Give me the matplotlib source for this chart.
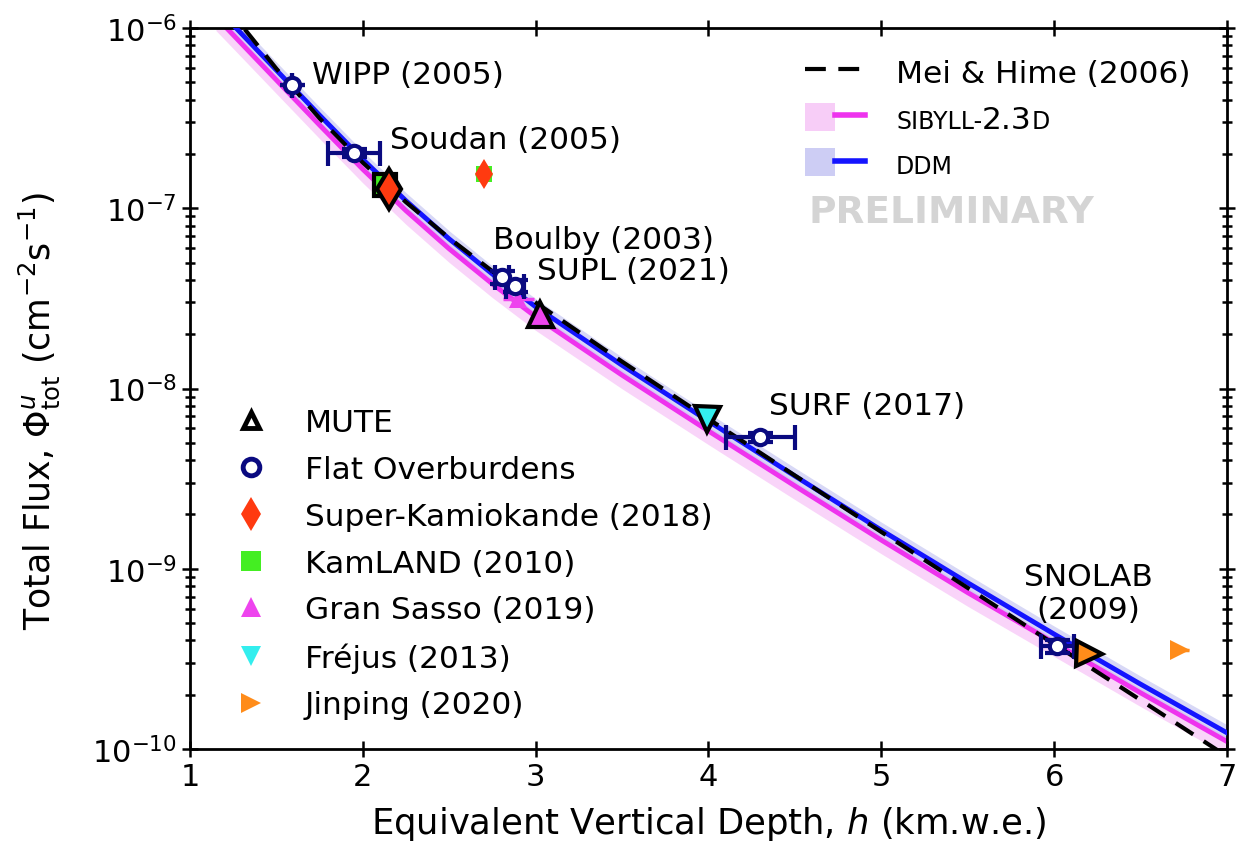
import numpy as np
import matplotlib.pyplot as plt
from matplotlib.lines import Line2D
from matplotlib.patches import Patch
from matplotlib.legend_handler import HandlerTuple
from matplotlib.transforms import IdentityTransform

# model curves (depth in km.w.e., flux in cm^-2 s^-1)
depth = [1.15, 1.25, 1.5, 1.75, 2.0, 2.25, 2.5, 2.75, 3.0, 3.5, 4.0, 4.5, 5.0, 5.5, 6.0, 6.5, 7.0]
ddm = [1.306e-6, 1.038e-6, 5.83e-7, 3.28e-7, 1.866e-7, 1.099e-7, 6.75e-8, 4.31e-8, 2.84e-8,
       1.346e-8, 6.59e-9, 3.27e-9, 1.637e-9, 8.36e-10, 4.34e-10, 2.29e-10, 1.23e-10]
ddm_hi = [1.448e-6, 1.151e-6, 6.47e-7, 3.64e-7, 2.07e-7, 1.219e-7, 7.49e-8, 4.78e-8, 3.15e-8,
          1.493e-8, 7.31e-9, 3.63e-9, 1.815e-9, 9.27e-10, 4.81e-10, 2.54e-10, 1.364e-10]
ddm_lo = [1.178e-6, 9.36e-7, 5.26e-7, 2.96e-7, 1.683e-7, 9.91e-8, 6.09e-8, 3.89e-8, 2.56e-8,
          1.214e-8, 5.94e-9, 2.95e-9, 1.477e-9, 7.54e-10, 3.91e-10, 2.07e-10, 1.109e-10]
sib = [1.151e-6, 9.15e-7, 5.14e-7, 2.89e-7, 1.644e-7, 9.68e-8, 5.95e-8, 3.80e-8, 2.50e-8,
       1.186e-8, 5.81e-9, 2.88e-9, 1.442e-9, 7.37e-10, 3.88e-10, 2.05e-10, 1.10e-10]
sib_hi = [1.22e-6, 9.7e-7, 5.45e-7, 3.06e-7, 1.743e-7, 1.026e-7, 6.31e-8, 4.03e-8, 2.65e-8,
          1.257e-8, 6.16e-9, 3.05e-9, 1.529e-9, 7.81e-10, 4.11e-10, 2.17e-10, 1.166e-10]
sib_lo = [9.67e-7, 7.69e-7, 4.32e-7, 2.43e-7, 1.381e-7, 8.13e-8, 5.0e-8, 3.19e-8, 2.10e-8,
          9.96e-9, 4.88e-9, 2.42e-9, 1.211e-9, 6.19e-10, 3.26e-10, 1.72e-10, 9.24e-11]

depth_mh = [1.2, 1.3, 1.5, 1.75, 2.0, 2.25, 2.5, 2.75, 3.0, 3.5, 4.0, 4.5, 5.0, 5.5, 6.0, 6.5, 7.0]
meihime = [1.38e-6, 1.03e-6, 5.94e-7, 3.15e-7, 1.79e-7, 1.08e-7, 6.82e-8, 4.47e-8, 3.0e-8,
           1.41e-8, 6.78e-9, 3.29e-9, 1.60e-9, 7.83e-10, 3.82e-10, 1.87e-10, 9.1e-11]

# flat overburden labs
flat_names = ["WIPP (2005)", "Soudan (2005)", "Boulby (2003)", "SUPL (2021)", "SURF (2017)", "SNOLAB\n(2009)"]
flat_h = [1.589, 1.95, 2.804, 2.881, 4.30, 6.017]
flat_phi = [4.83e-7, 2.02e-7, 4.14e-8, 3.71e-8, 5.36e-9, 3.72e-10]
flat_herr = [0.0, 0.15, 0.04, 0.05, 0.20, 0.095]
flat_phierr = [0.0, 0.1e-7, 0.35e-8, 0.3e-8, 0.3e-9, 0.3e-10]

# experiments (measured) and MUTE predictions
labs = ["Super-Kamiokande (2018)", "KamLAND (2010)", "Gran Sasso (2019)", "Fréjus (2013)", "Jinping (2020)"]
lab_colors = ["#ff3a10", "#44ee22", "#ee44ee", "#33eeee", "#ff8c1a"]
lab_markers = ["d", "s", "^", "v", ">"]
exp_h = [2.70, 2.70, 2.90, 3.99, 6.73]
exp_phi = [1.54e-7, 1.54e-7, 3.15e-8, 6.8e-9, 3.55e-10]
exp_herr = [0.0, 0.05, 0.09, 0.0, 0.05]
exp_phierr = [0.0, 0.14e-7, 0.2e-8, 0.0, 0.0]
mute_h = [2.153, 2.128, 3.025, 3.99, 6.20]
mute_phi = [1.28e-7, 1.35e-7, 2.59e-8, 6.8e-9, 3.35e-10]

fig = plt.figure(figsize=(12.42, 8.45), dpi=100)
ax = fig.add_axes([0.1530, 0.1124, 0.8349, 0.8533])

ax.fill_between(depth, sib_lo, sib_hi, color="#f5b8f5", alpha=0.6, lw=0, zorder=1)
ax.fill_between(depth, ddm_lo, ddm_hi, color="#b8b8f0", alpha=0.55, lw=0, zorder=1)
ax.plot(depth, sib, color="#ee33ee", lw=3.5, zorder=2)
ax.plot(depth, ddm, color="#1414ff", lw=3.5, zorder=3)
ax.plot(depth_mh, meihime, color="black", lw=3, ls=(0, (5, 3)), zorder=4)

# measured points
for i in range(len(labs)):
    ms = {"d": 15, "s": 12, "^": 13, "v": 13, ">": 15}[lab_markers[i]]
    ax.errorbar(exp_h[i], exp_phi[i], xerr=exp_herr[i] or None, yerr=exp_phierr[i] or None,
                fmt=lab_markers[i], color=lab_colors[i], ms=ms, mew=0, elinewidth=2.5,
                capsize=6, capthick=2.5, zorder=5 if i != 1 else 4.5)

# flat overburdens
ax.errorbar(flat_h, flat_phi, xerr=flat_herr, yerr=flat_phierr, fmt="o", color="#0a0a80",
            mfc="white", mec="#0a0a80", ms=11, mew=3, elinewidth=3, capsize=9, capthick=3,
            zorder=6)

# MUTE predictions
for i in range(len(labs)):
    ms = 20 if lab_markers[i] == "d" else 18
    if lab_markers[i] == "s":
        ms = 16
    ax.plot(mute_h[i], mute_phi[i], lab_markers[i], color=lab_colors[i], ms=ms,
            mec="black", mew=3, zorder=7 if i != 1 else 6.5)

fs = 22.5
ax.text(1.706, 5.49e-7, flat_names[0], fontsize=fs, va="center")
ax.text(2.157, 2.42e-7, flat_names[1], fontsize=fs, va="center")
ax.text(2.753, 6.75e-8, flat_names[2], fontsize=fs, va="center")
ax.text(3.008, 4.54e-8, flat_names[3], fontsize=fs, va="center")
ax.text(4.351, 8.0e-9, flat_names[4], fontsize=fs, va="center")
ax.text(6.197, 7.33e-10, flat_names[5], fontsize=fs, va="center", ha="center", linespacing=1.2)
ax.text(4.576, 9.5e-8, "PRELIMINARY", fontsize=27, fontweight="bold", color="#d4d4d4",
        va="center")

ax.set_yscale("log")
ax.set_xlim(1, 7)
ax.set_ylim(1e-10, 1e-6)
ax.set_xlabel("Equivalent Vertical Depth, $h$ (km.w.e.)", fontsize=25.5, labelpad=9)
ax.set_ylabel(r"Total Flux, $\Phi^{u}_{\mathrm{tot}}$ (cm$^{-2}$s$^{-1}$)", fontsize=25)
ax.yaxis.set_label_coords(-0.123, 0.47)
ax.tick_params(which="both", direction="inout", top=True, right=True, labelsize=22, width=1.8)
ax.tick_params(which="major", length=12)
ax.tick_params(which="minor", length=7)
for s in ax.spines.values():
    s.set_linewidth(2)

# legends
line_handles = [
    Line2D([], [], color="black", lw=3, ls=(0, (5, 3))),
    (Patch(color="#f5b8f5", alpha=0.7, lw=0), Line2D([], [], color="#ee33ee", lw=4)),
    (Patch(color="#b8b8f0", alpha=0.7, lw=0), Line2D([], [], color="#1414ff", lw=4)),
]
leg1 = ax.legend(line_handles, ["Mei & Hime (2006)", "SIBYLL-", "DDM"],
                 handler_map={tuple: HandlerTuple(ndivide=None, pad=0)},
                 loc="upper right", bbox_to_anchor=(0.992, 0.999), frameon=False,
                 fontsize=fs, handlelength=1.9, handleheight=1.0, labelspacing=0.5,
                 handletextpad=1.0)
sc = 17
leg1.get_texts()[1].set_fontsize(sc)
leg1.get_texts()[2].set_fontsize(sc)
ax.add_artist(leg1)

mark_handles = [
    Line2D([], [], ls="none", marker="^", mfc="white", mec="black", ms=12, mew=3.5),
    Line2D([], [], ls="none", marker="o", mfc="white", mec="#0a0a80", ms=12, mew=3.5),
]
for i in range(len(labs)):
    mark_handles.append(Line2D([], [], ls="none", marker=lab_markers[i], color=lab_colors[i],
                               ms=17 if lab_markers[i] == "d" else 15, mew=0))
ax.legend(mark_handles, ["MUTE", "Flat Overburdens"] + labs, loc="lower left",
          bbox_to_anchor=(0.011, 0.002), frameon=False, fontsize=fs, handlelength=1.4,
          labelspacing=0.57, handletextpad=1.0)

# small-caps look for "SIBYLL-2.3D": append the full-size "2.3" and small "D"
fig.canvas.draw()
t = leg1.get_texts()[1]
x0, y0 = t.get_transform().transform(t.get_position())
bb = t.get_window_extent()
t2 = fig.text(bb.x1, y0, "2.3", fontsize=fs, va="baseline", ha="left", transform=IdentityTransform())
fig.canvas.draw()
bb2 = t2.get_window_extent()
fig.text(bb2.x1, y0, "D", fontsize=sc, va="baseline", ha="left", transform=IdentityTransform())

plt.savefig("out.png", dpi=100)
